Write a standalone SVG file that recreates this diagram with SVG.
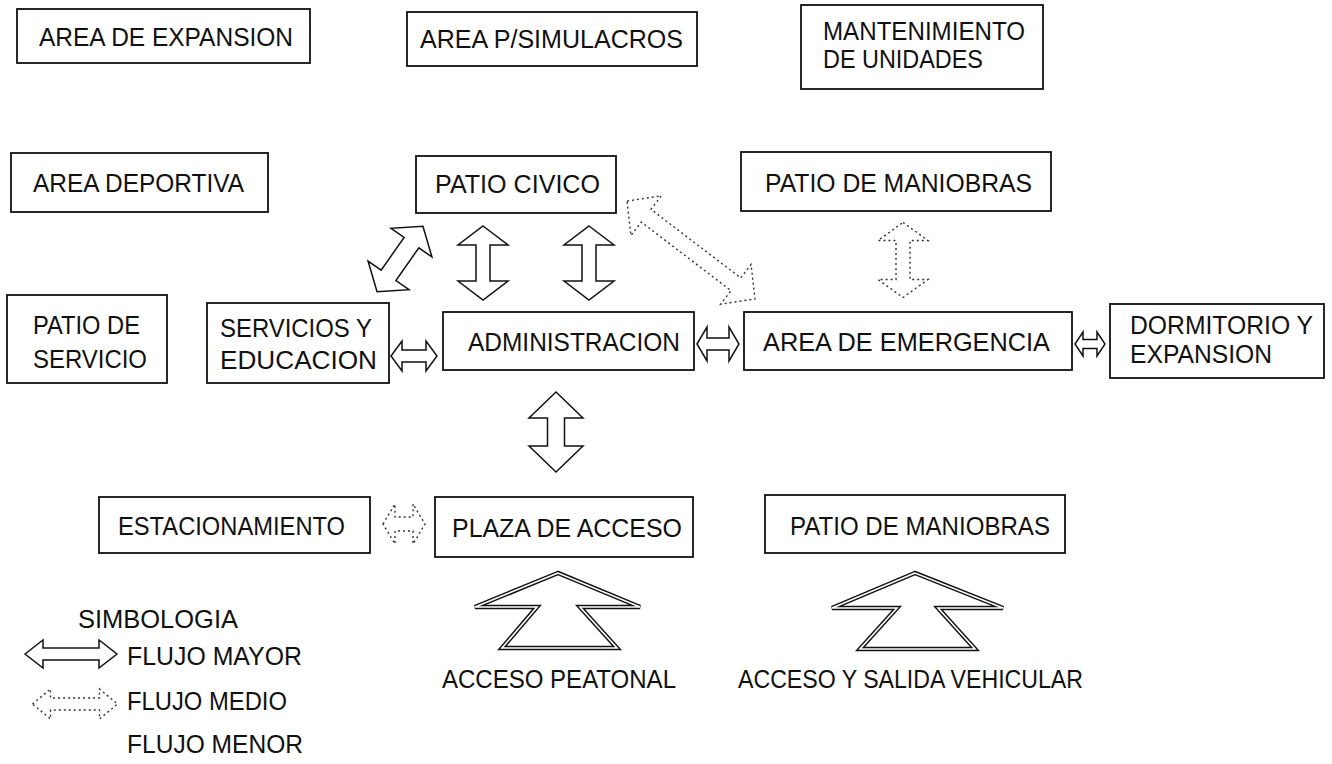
<svg xmlns="http://www.w3.org/2000/svg" width="1332" height="764" viewBox="0 0 1332 764">
<style>
.box{fill:#fff;stroke:#111;stroke-width:1.8}
.t{font-family:"Liberation Sans",Arial,sans-serif;font-size:25px;fill:#111}
.solid{fill:#fff;stroke:#111;stroke-width:1.5;stroke-linejoin:miter}
.dot{fill:#fff;stroke:#333;stroke-width:1.4;stroke-dasharray:2 3}
.big1{fill:#fff;stroke:#111;stroke-width:4.5;stroke-linejoin:miter}
.big2{fill:none;stroke:#fff;stroke-width:1.6;stroke-linejoin:miter}
</style>
<rect width="1332" height="764" fill="#fff"/>

<g id="connectors">
  <polygon class="solid" transform="translate(483,263) rotate(90)" points="-37,0 -18,-25 -18,-7 18,-7 18,-25 37,0 18,25 18,7 -18,7 -18,25"/>
  <polygon class="solid" transform="translate(589,263) rotate(90)" points="-37,0 -18,-25 -18,-7 18,-7 18,-25 37,0 18,25 18,7 -18,7 -18,25"/>
  <polygon class="solid" transform="translate(556,432) rotate(90)" points="-40,0 -14,-27 -14,-8.5 14,-8.5 14,-27 40,0 14,27 14,8.5 -14,8.5 -14,27"/>
  <polygon class="solid" transform="translate(400,259) rotate(-55)" points="-40,0 -20,-25 -20,-9 20,-9 20,-25 40,0 20,25 20,9 -20,9 -20,25"/>
  <polygon class="dot" transform="translate(691,250) rotate(37.4)" points="-80.5,0 -56.5,-25 -56.5,-8 56.5,-8 56.5,-25 80.5,0 56.5,25 56.5,8 -56.5,8 -56.5,25"/>
  <polygon class="dot" transform="translate(903,260) rotate(90)" points="-37.5,0 -19.5,-25 -19.5,-7 19.5,-7 19.5,-25 37.5,0 19.5,25 19.5,7 -19.5,7 -19.5,25"/>
  <polygon class="solid" transform="translate(414,356)" points="-23,0 -12,-15 -12,-6 12,-6 12,-15 23,0 12,15 12,6 -12,6 -12,15"/>
  <polygon class="solid" transform="translate(718,344)" points="-21,0 -11,-17 -11,-6 11,-6 11,-17 21,0 11,17 11,6 -11,6 -11,17"/>
  <polygon class="solid" transform="translate(1090,344)" points="-15,0 -7,-12 -7,-4.5 7,-4.5 7,-12 15,0 7,12 7,4.5 -7,4.5 -7,12"/>
  <polygon class="dot" transform="translate(404,524)" points="-21,0 -9,-20 -9,-7 9,-7 9,-20 21,0 9,20 9,7 -9,7 -9,20"/>
  <g id="acceso-peatonal-arrow">
    <polygon class="big1" points="558,573 475,607 537,607 502,648 617,648 580,607 640,607"/>
    <polygon class="big2" points="558,573 475,607 537,607 502,648 617,648 580,607 640,607"/>
  </g>
  <g id="acceso-vehicular-arrow">
    <polygon class="big1" points="915,573 832,608 897,608 860,649 975,649 938,608 1003,608"/>
    <polygon class="big2" points="915,573 832,608 897,608 860,649 975,649 938,608 1003,608"/>
  </g>
</g>

<g id="area-expansion"><rect class="box" x="17" y="9" width="293" height="54"/><text class="t" x="39" y="46" textLength="254" lengthAdjust="spacingAndGlyphs">AREA DE EXPANSION</text></g>
<g id="area-simulacros"><rect class="box" x="407" y="12" width="290" height="54"/><text class="t" x="420" y="48" textLength="263" lengthAdjust="spacingAndGlyphs">AREA P/SIMULACROS</text></g>
<g id="mantenimiento"><rect class="box" x="801" y="5" width="242" height="84"/><text class="t" x="823" y="40" textLength="202" lengthAdjust="spacingAndGlyphs">MANTENIMIENTO</text><text class="t" x="823" y="68" textLength="160" lengthAdjust="spacingAndGlyphs">DE UNIDADES</text></g>
<g id="area-deportiva"><rect class="box" x="11" y="153" width="257" height="59"/><text class="t" x="33" y="192" textLength="211" lengthAdjust="spacingAndGlyphs">AREA DEPORTIVA</text></g>
<g id="patio-civico"><rect class="box" x="416" y="156" width="200" height="57"/><text class="t" x="435" y="193" textLength="165" lengthAdjust="spacingAndGlyphs">PATIO CIVICO</text></g>
<g id="patio-maniobras-1"><rect class="box" x="741" y="152" width="310" height="59"/><text class="t" x="765" y="192" textLength="267" lengthAdjust="spacingAndGlyphs">PATIO DE MANIOBRAS</text></g>
<g id="patio-servicio"><rect class="box" x="7" y="295" width="160" height="88"/><text class="t" x="33" y="334" textLength="107" lengthAdjust="spacingAndGlyphs">PATIO DE</text><text class="t" x="33" y="368" textLength="114" lengthAdjust="spacingAndGlyphs">SERVICIO</text></g>
<g id="servicios-educacion"><rect class="box" x="207" y="303" width="182" height="80"/><text class="t" x="220" y="337" textLength="152" lengthAdjust="spacingAndGlyphs">SERVICIOS Y</text><text class="t" x="220" y="369" textLength="157" lengthAdjust="spacingAndGlyphs">EDUCACION</text></g>
<g id="administracion"><rect class="box" x="443" y="312" width="251" height="58"/><text class="t" x="468" y="351" textLength="212" lengthAdjust="spacingAndGlyphs">ADMINISTRACION</text></g>
<g id="area-emergencia"><rect class="box" x="744" y="312" width="328" height="58"/><text class="t" x="763" y="351" textLength="287" lengthAdjust="spacingAndGlyphs">AREA DE EMERGENCIA</text></g>
<g id="dormitorio"><rect class="box" x="1110" y="304" width="214" height="74"/><text class="t" x="1130" y="334" textLength="183" lengthAdjust="spacingAndGlyphs">DORMITORIO Y</text><text class="t" x="1130" y="363" textLength="142" lengthAdjust="spacingAndGlyphs">EXPANSION</text></g>
<g id="estacionamiento"><rect class="box" x="99" y="497" width="271" height="56"/><text class="t" x="118" y="535" textLength="227" lengthAdjust="spacingAndGlyphs">ESTACIONAMIENTO</text></g>
<g id="plaza-acceso"><rect class="box" x="435" y="497" width="258" height="60"/><text class="t" x="452" y="537" textLength="230" lengthAdjust="spacingAndGlyphs">PLAZA DE ACCESO</text></g>
<g id="patio-maniobras-2"><rect class="box" x="765" y="495" width="300" height="58"/><text class="t" x="790" y="535" textLength="260" lengthAdjust="spacingAndGlyphs">PATIO DE MANIOBRAS</text></g>

<g id="acceso-labels">
  <text class="t" x="442" y="688" textLength="234" lengthAdjust="spacingAndGlyphs">ACCESO PEATONAL</text>
  <text class="t" x="738" y="688" textLength="345" lengthAdjust="spacingAndGlyphs">ACCESO Y SALIDA VEHICULAR</text>
</g>

<g id="legend">
  <text class="t" x="78" y="628" textLength="160" lengthAdjust="spacingAndGlyphs">SIMBOLOGIA</text>
  <polygon class="solid" transform="translate(71,654)" points="-46,0 -28,-14 -28,-6 28,-6 28,-14 46,0 28,14 28,6 -28,6 -28,14"/>
  <text class="t" x="127" y="665" textLength="175" lengthAdjust="spacingAndGlyphs">FLUJO MAYOR</text>
  <polygon class="dot" transform="translate(75,704)" points="-42.5,0 -24.5,-15 -24.5,-6 24.5,-6 24.5,-15 42.5,0 24.5,15 24.5,6 -24.5,6 -24.5,15"/>
  <text class="t" x="127" y="710" textLength="160" lengthAdjust="spacingAndGlyphs">FLUJO MEDIO</text>
  <text class="t" x="127" y="753" textLength="176" lengthAdjust="spacingAndGlyphs">FLUJO MENOR</text>
</g>
</svg>
